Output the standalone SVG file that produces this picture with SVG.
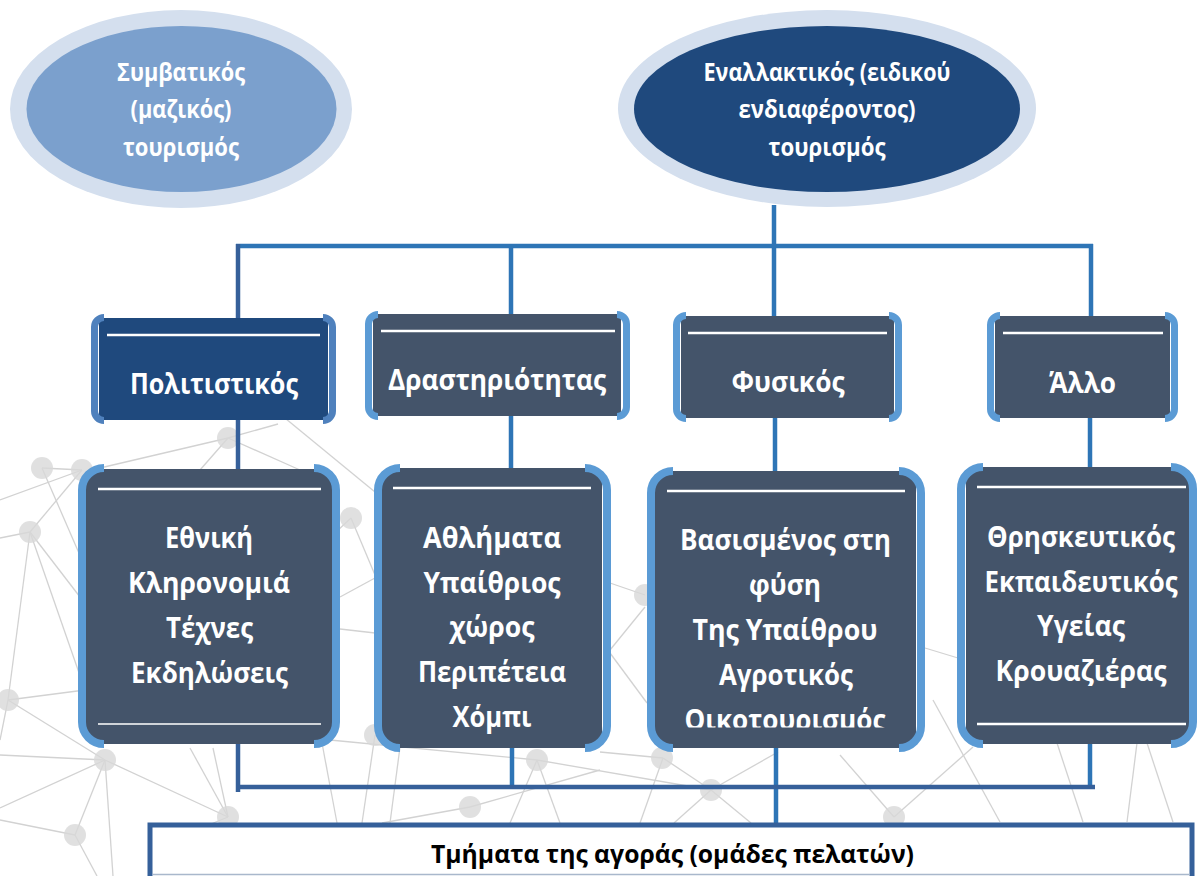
<svg xmlns="http://www.w3.org/2000/svg" width="1197" height="876" viewBox="0 0 1197 876">
<style>
.net line{stroke:#D2D2D2;stroke-width:1.3}
.nd{fill:#D8D8D8;opacity:.8}
.conn{stroke:#2E75B6;stroke-width:4.5;fill:none}
.dk{stroke:#36609A}
.brk{fill:none;stroke:#5B9BD5;stroke-width:8}
.brkc{fill:none;stroke:#5B9BD5;stroke-width:7}
.box{fill:#44546A}
.hl{stroke:#FFFFFF;stroke-width:2.5}
.t{font-family:"Open Sans","Noto Sans","DejaVu Sans",sans-serif;font-weight:700;fill:#FFFFFF;text-anchor:middle}
.e{font-size:24.5px}
.c{font-size:29px}
.d{font-size:28px}
</style>
<defs>
<clipPath id="clipC"><rect x="655" y="471" width="261" height="256.5"/></clipPath>
</defs>
<rect width="1197" height="876" fill="#FFFFFF"/>
<g id="background" class="net">
<line x1="0" y1="500" x2="82" y2="470"/>
<line x1="42" y1="468" x2="82" y2="470"/>
<line x1="42" y1="468" x2="95" y2="590"/>
<line x1="82" y1="470" x2="30" y2="532"/>
<line x1="30" y1="532" x2="0" y2="538"/>
<line x1="30" y1="532" x2="90" y2="610"/>
<line x1="30" y1="532" x2="85" y2="690"/>
<line x1="30" y1="532" x2="8" y2="700"/>
<line x1="228" y1="438" x2="100" y2="468"/>
<line x1="228" y1="438" x2="200" y2="470"/>
<line x1="228" y1="438" x2="278" y2="424"/>
<line x1="228" y1="438" x2="300" y2="470"/>
<line x1="280" y1="414" x2="375" y2="492"/>
<line x1="351" y1="518" x2="336" y2="532"/>
<line x1="351" y1="518" x2="375" y2="575"/>
<line x1="340" y1="597" x2="375" y2="578"/>
<line x1="340" y1="629" x2="375" y2="633"/>
<line x1="8" y1="700" x2="85" y2="690"/>
<line x1="8" y1="700" x2="105" y2="760"/>
<line x1="8" y1="700" x2="0" y2="740"/>
<line x1="105" y1="760" x2="0" y2="808"/>
<line x1="105" y1="760" x2="228" y2="817"/>
<line x1="105" y1="760" x2="75" y2="835"/>
<line x1="105" y1="760" x2="113" y2="876"/>
<line x1="105" y1="760" x2="0" y2="755"/>
<line x1="228" y1="817" x2="190" y2="748"/>
<line x1="228" y1="817" x2="213" y2="748"/>
<line x1="228" y1="817" x2="148" y2="850"/>
<line x1="75" y1="835" x2="0" y2="820"/>
<line x1="75" y1="835" x2="97" y2="876"/>
<line x1="322" y1="743" x2="337" y2="823"/>
<line x1="375" y1="735" x2="362" y2="823"/>
<line x1="400" y1="747" x2="390" y2="823"/>
<line x1="537" y1="760" x2="330" y2="740"/>
<line x1="537" y1="760" x2="711" y2="790"/>
<line x1="537" y1="760" x2="510" y2="823"/>
<line x1="537" y1="760" x2="560" y2="823"/>
<line x1="470" y1="807" x2="382" y2="823"/>
<line x1="470" y1="807" x2="600" y2="770"/>
<line x1="663" y1="758" x2="711" y2="790"/>
<line x1="663" y1="758" x2="640" y2="823"/>
<line x1="663" y1="758" x2="600" y2="752"/>
<line x1="711" y1="790" x2="674" y2="823"/>
<line x1="711" y1="790" x2="751" y2="823"/>
<line x1="711" y1="790" x2="778" y2="752"/>
<line x1="894" y1="817" x2="973" y2="747"/>
<line x1="894" y1="817" x2="840" y2="755"/>
<line x1="933" y1="700" x2="1000" y2="822"/>
<line x1="1057" y1="743" x2="1083" y2="822"/>
<line x1="1137" y1="743" x2="1127" y2="822"/>
<line x1="1147" y1="743" x2="1173" y2="822"/>
<line x1="610" y1="583" x2="645" y2="595"/>
<line x1="610" y1="650" x2="645" y2="607"/>
<line x1="610" y1="653" x2="647" y2="703"/>
<line x1="925" y1="648" x2="958" y2="658"/>
<circle class="nd" cx="42" cy="468" r="11"/>
<circle class="nd" cx="82" cy="470" r="11"/>
<circle class="nd" cx="30" cy="532" r="11"/>
<circle class="nd" cx="228" cy="438" r="11"/>
<circle class="nd" cx="351" cy="518" r="11"/>
<circle class="nd" cx="8" cy="700" r="11"/>
<circle class="nd" cx="105" cy="760" r="11"/>
<circle class="nd" cx="228" cy="817" r="11"/>
<circle class="nd" cx="75" cy="835" r="11"/>
<circle class="nd" cx="375" cy="735" r="11"/>
<circle class="nd" cx="645" cy="595" r="11"/>
<circle class="nd" cx="537" cy="760" r="11"/>
<circle class="nd" cx="470" cy="807" r="11"/>
<circle class="nd" cx="662" cy="758" r="11"/>
<circle class="nd" cx="711" cy="790" r="11"/>
<circle class="nd" cx="894" cy="817" r="11"/>
</g>
<g id="connectors">
<line class="conn" x1="774" y1="205" x2="774" y2="316"/>
<line class="conn" x1="236" y1="246" x2="1093" y2="246"/>
<line class="conn dk" x1="238" y1="244" x2="238" y2="318"/>
<line class="conn" x1="511" y1="246" x2="511" y2="314"/>
<line class="conn" x1="1091" y1="244" x2="1091" y2="316"/>
<line class="conn dk" x1="238" y1="420" x2="238" y2="469"/>
<line class="conn" x1="511" y1="416" x2="511" y2="468"/>
<line class="conn" x1="775" y1="418" x2="775" y2="471"/>
<line class="conn" x1="1090" y1="418" x2="1090" y2="467"/>
<line class="conn dk" x1="238" y1="744" x2="238" y2="792"/>
<line class="conn" x1="512" y1="748" x2="512" y2="787"/>
<line class="conn" x1="776" y1="748" x2="776" y2="824"/>
<line class="conn" x1="1090" y1="744" x2="1090" y2="789"/>
<line class="conn dk" x1="236" y1="787" x2="1095" y2="787"/>
</g>
<g id="ellipse-conventional">
<ellipse cx="181" cy="109" rx="171" ry="99" fill="#D4DFEE"/>
<ellipse cx="181.5" cy="109" rx="155" ry="83" fill="#7BA0CD"/>
<text class="t e" x="181" y="81" textLength="128" lengthAdjust="spacingAndGlyphs">Συμβατικός</text>
<text class="t e" x="181" y="118" textLength="101" lengthAdjust="spacingAndGlyphs">(μαζικός)</text>
<text class="t e" x="181" y="156" textLength="116" lengthAdjust="spacingAndGlyphs">τουρισμός</text>
</g>
<g id="ellipse-alternative">
<ellipse cx="827" cy="108.5" rx="209" ry="98.5" fill="#D4DFEE"/>
<ellipse cx="827" cy="109" rx="193" ry="83" fill="#1F497D"/>
<text class="t e" x="827" y="81" textLength="247" lengthAdjust="spacingAndGlyphs">Εναλλακτικός (ειδικού</text>
<text class="t e" x="827" y="118" textLength="177" lengthAdjust="spacingAndGlyphs">ενδιαφέροντος)</text>
<text class="t e" x="827" y="156" textLength="117" lengthAdjust="spacingAndGlyphs">τουρισμός</text>
</g>
<g id="cat-cultural">
<rect x="99" y="318" width="229" height="102" rx="3" fill="#1F497D"/>
<path class="brkc" style="stroke:#4F81BD" d="M104 317.5A9.5 9.5 0 0 0 94.5 327V411A9.5 9.5 0 0 0 104 420.5M323 317.5A9.5 9.5 0 0 1 332.5 327V411A9.5 9.5 0 0 1 323 420.5"/>
<line class="hl" x1="107" y1="335" x2="320" y2="335"/>
<text class="t c" x="214" y="394" textLength="168" lengthAdjust="spacingAndGlyphs">Πολιτιστικός</text>
</g>
<g id="cat-activity">
<rect class="box" x="373" y="314" width="248" height="102" rx="3"/>
<path class="brkc" d="M378 314.5A9.5 9.5 0 0 0 368.5 324V407A9.5 9.5 0 0 0 378 416.5M617 314.5A9.5 9.5 0 0 1 626.5 324V407A9.5 9.5 0 0 1 617 416.5"/>
<line class="hl" x1="381" y1="331" x2="615" y2="331"/>
<text class="t c" x="497" y="390" textLength="218" lengthAdjust="spacingAndGlyphs">Δραστηριότητας</text>
</g>
<g id="cat-nature">
<rect class="box" x="681" y="316" width="213" height="102" rx="3"/>
<path class="brkc" d="M686 315.5A9.5 9.5 0 0 0 676.5 325V409A9.5 9.5 0 0 0 686 418.5M889 315.5A9.5 9.5 0 0 1 898.5 325V409A9.5 9.5 0 0 1 889 418.5"/>
<line class="hl" x1="688" y1="333" x2="887" y2="333"/>
<text class="t c" x="788" y="392" textLength="113" lengthAdjust="spacingAndGlyphs">Φυσικός</text>
</g>
<g id="cat-other">
<rect class="box" x="995" y="316" width="175" height="102" rx="3"/>
<path class="brkc" d="M1000 315.5A9.5 9.5 0 0 0 990.5 325V409A9.5 9.5 0 0 0 1000 418.5M1165 315.5A9.5 9.5 0 0 1 1174.5 325V409A9.5 9.5 0 0 1 1165 418.5"/>
<line class="hl" x1="1003" y1="333" x2="1163" y2="333"/>
<text class="t c" x="1082.5" y="393" textLength="67" lengthAdjust="spacingAndGlyphs">Άλλο</text>
</g>
<g id="detail-cultural">
<rect class="box" x="86" y="469" width="246" height="275" rx="14"/>
<path class="brk" d="M104 468A22 22 0 0 0 82 490V722A22 22 0 0 0 104 744M314 468A22 22 0 0 1 336 490V722A22 22 0 0 1 314 744"/>
<line class="hl" x1="98" y1="489" x2="321" y2="489"/>
<line class="hl" x1="98" y1="724" x2="321" y2="724" style="stroke-width:1.6"/>
<text class="t d" x="209" y="548" textLength="88" lengthAdjust="spacingAndGlyphs">Εθνική</text>
<text class="t d" x="209" y="593" textLength="162" lengthAdjust="spacingAndGlyphs">Κληρονομιά</text>
<text class="t d" x="209.5" y="638" textLength="87" lengthAdjust="spacingAndGlyphs">Τέχνες</text>
<text class="t d" x="209.5" y="683" textLength="157" lengthAdjust="spacingAndGlyphs">Εκδηλώσεις</text>
</g>
<g id="detail-activity">
<rect class="box" x="382" y="468" width="220" height="280" rx="14"/>
<path class="brk" d="M400 468A22 22 0 0 0 378 490V726A22 22 0 0 0 400 748M585 468A22 22 0 0 1 607 490V726A22 22 0 0 1 585 748"/>
<line class="hl" x1="393" y1="488" x2="591" y2="488"/>
<text class="t d" x="492" y="548" textLength="138" lengthAdjust="spacingAndGlyphs">Αθλήματα</text>
<text class="t d" x="492" y="593" textLength="137" lengthAdjust="spacingAndGlyphs">Υπαίθριος</text>
<text class="t d" x="492" y="637" textLength="85" lengthAdjust="spacingAndGlyphs">χώρος</text>
<text class="t d" x="492" y="682" textLength="148" lengthAdjust="spacingAndGlyphs">Περιπέτεια</text>
<text class="t d" x="492" y="727" textLength="79" lengthAdjust="spacingAndGlyphs">Χόμπι</text>
</g>
<g id="detail-nature">
<rect class="box" x="655" y="471" width="261" height="277" rx="14"/>
<path class="brk" d="M673 471A22 22 0 0 0 651 493V726A22 22 0 0 0 673 748M899 471A22 22 0 0 1 921 493V726A22 22 0 0 1 899 748"/>
<line class="hl" x1="667" y1="491" x2="905" y2="491"/>
<g clip-path="url(#clipC)">
<text class="t d" x="785.5" y="550" textLength="211" lengthAdjust="spacingAndGlyphs">Βασισμένος στη</text>
<text class="t d" x="785" y="595" textLength="72" lengthAdjust="spacingAndGlyphs">φύση</text>
<text class="t d" x="785" y="640" textLength="185" lengthAdjust="spacingAndGlyphs">Της Υπαίθρου</text>
<text class="t d" x="786" y="685" textLength="134" lengthAdjust="spacingAndGlyphs">Αγροτικός</text>
<text class="t d" x="785" y="730" textLength="201" lengthAdjust="spacingAndGlyphs">Οικοτουρισμός</text>
</g>
</g>
<g id="detail-other">
<rect class="box" x="966" y="467" width="223" height="277" rx="14"/>
<path class="brk" d="M983 467A22 22 0 0 0 961 489V722A22 22 0 0 0 983 744M1171 467A22 22 0 0 1 1193 489V722A22 22 0 0 1 1171 744"/>
<line class="hl" x1="977" y1="487" x2="1186" y2="487"/>
<line class="hl" x1="977" y1="724" x2="1186" y2="724"/>
<text class="t d" x="1081" y="547" textLength="188" lengthAdjust="spacingAndGlyphs">Θρησκευτικός</text>
<text class="t d" x="1081" y="591.5" textLength="193" lengthAdjust="spacingAndGlyphs">Εκπαιδευτικός</text>
<text class="t d" x="1081" y="636" textLength="88" lengthAdjust="spacingAndGlyphs">Υγείας</text>
<text class="t d" x="1081" y="680.5" textLength="171" lengthAdjust="spacingAndGlyphs">Κρουαζιέρας</text>
</g>
<g id="market-segments">
<rect x="150" y="825" width="1042" height="70" fill="#FFFFFF" stroke="#35609A" stroke-width="5"/>
<line x1="153" y1="874.5" x2="1190" y2="874.5" stroke="#A9B8CC" stroke-width="1.5"/>
<text class="t" style="fill:#000000;font-size:24.5px" x="672.5" y="863" textLength="483" lengthAdjust="spacingAndGlyphs">Τμήματα της αγοράς (ομάδες πελατών)</text>
</g>
</svg>
